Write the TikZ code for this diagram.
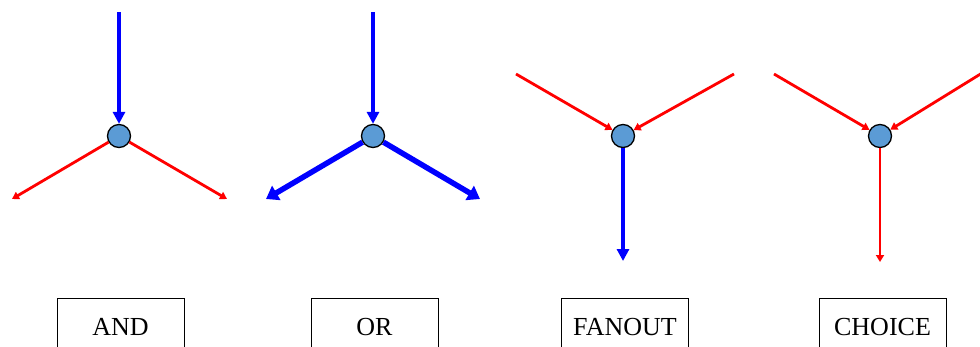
\documentclass[tikz,border=0pt]{standalone}
\usepackage{fontspec}
\setmainfont{Liberation Serif}
\usetikzlibrary{arrows.meta}
\definecolor{jfill}{HTML}{5B9BD5}
\begin{document}
\begin{tikzpicture}[x=1pt,y=-1pt,
  junction/.style={circle,draw=black,fill=jfill,line width=1.3pt,minimum size=23pt,inner sep=0pt},
  blueflow/.style={draw=blue,line width=4pt,-{Triangle[length=12pt,width=12pt]}},
  bluewide/.style={draw=blue,line width=5.5pt,-{Triangle[length=12pt,width=16pt]}},
  redflow/.style={draw=red,line width=2.8pt,-{Triangle[length=7pt,width=8pt]}},
  label/.style={draw=black,line width=0.8pt,minimum width=127pt,minimum height=58pt,anchor=north,inner sep=0pt,font=\fontsize{26}{30}\selectfont}
]
\useasboundingbox (0,0) rectangle (980,346);
\clip (0,0) rectangle (980,346);

% AND
\node[junction] (and) at (119,136) {};
\coordinate (andin) at (119,12);
\coordinate (andl) at (12,199);
\coordinate (andr) at (227,199);
\draw[blueflow] (andin) -- (and);
\draw[redflow] (and) -- (andl);
\draw[redflow] (and) -- (andr);
\node[label] (andbox) at (120.5,298) {AND};

% OR
\node[junction] (or) at (373,136) {};
\coordinate (orin) at (373,12);
\coordinate (orl) at (266,199);
\coordinate (orr) at (480,199);
\draw[blueflow] (orin) -- (or);
\draw[bluewide] (or) -- (orl);
\draw[bluewide] (or) -- (orr);
\node[label] (orbox) at (374.5,298) {OR};

% FANOUT
\node[junction] (fan) at (623,136) {};
\coordinate (fanl) at (516,74);
\coordinate (fanr) at (734,74);
\coordinate (fanout) at (623,261);
\draw[redflow] (fanl) -- (fan);
\draw[redflow] (fanr) -- (fan);
\draw[blueflow] (fan) -- (fanout);
\node[label] (fanbox) at (625,298) {FANOUT};

% CHOICE
\node[junction] (cho) at (880,136) {};
\coordinate (chol) at (774,74);
\coordinate (chor) at (987,70);
\coordinate (choout) at (880,262);
\draw[redflow] (chol) -- (cho);
\draw[redflow] (chor) -- (cho);
\draw[redflow] (cho) -- (choout);
\node[label] (chobox) at (882.5,298) {CHOICE};
\end{tikzpicture}
\end{document}
